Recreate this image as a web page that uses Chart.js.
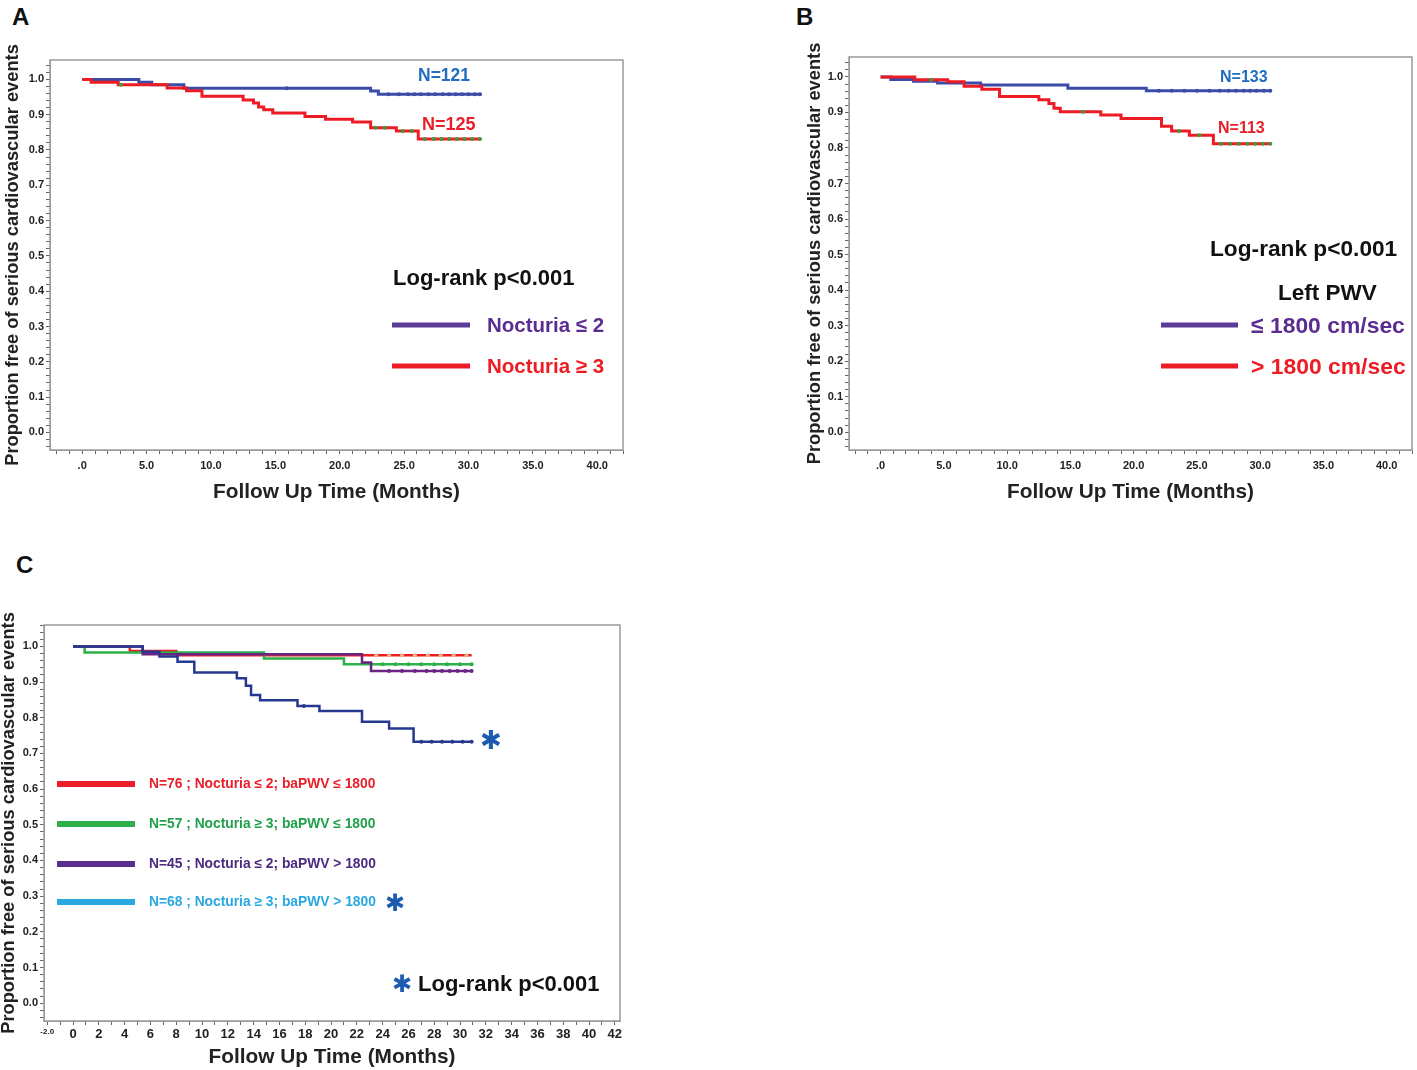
<!DOCTYPE html>
<html>
<head>
<meta charset="utf-8">
<script src="https://cdn.jsdelivr.net/npm/chart.js@4.4.1/dist/chart.umd.min.js"></script>
<style>
  body { margin: 0; background: #fff; width: 1417px; height: 1070px; position: relative; overflow: hidden;
         font-family: "Liberation Sans", Arial, sans-serif; }
  .box { position: absolute; }
  .t { position: absolute; font-weight: bold; white-space: nowrap; line-height: 1; transform: translateY(-50%); }
  .ln { position: absolute; transform: translateY(-50%); }
  .star { position: absolute; font-family: "DejaVu Sans", sans-serif; line-height: 1; transform: translate(-50%, -50%); color: #1d5bb0; }
</style>
</head>
<body>

<div class="box" style="left:0;top:40px;width:630px;height:480px"><canvas id="chartA"></canvas></div>
<div class="box" style="left:800px;top:40px;width:617px;height:480px"><canvas id="chartB"></canvas></div>
<div class="box" style="left:0;top:600px;width:630px;height:470px"><canvas id="chartC"></canvas></div>

<!-- panel letters -->
<div class="t" style="left:12px;top:17px;font-size:24px;color:#111">A</div>
<div class="t" style="left:796px;top:17px;font-size:24px;color:#111">B</div>
<div class="t" style="left:16px;top:565px;font-size:24px;color:#111">C</div>

<!-- panel A notes -->
<div class="t" style="left:418px;top:76px;font-size:17.5px;color:#1f6cc0">N=121</div>
<div class="t" style="left:422px;top:124px;font-size:18px;color:#e8202a">N=125</div>
<div class="t" style="left:393px;top:278px;font-size:22px;color:#111">Log-rank p&lt;0.001</div>
<div class="ln" style="left:392px;top:325px;width:78px;height:5px;background:#5b3a98"></div>
<div class="t" style="left:487px;top:325px;font-size:20.5px;color:#5b2d90">Nocturia ≤ 2</div>
<div class="ln" style="left:392px;top:366px;width:78px;height:5px;background:#ed1c24"></div>
<div class="t" style="left:487px;top:366px;font-size:20.5px;color:#ed1c24">Nocturia ≥ 3</div>

<!-- panel B notes -->
<div class="t" style="left:1220px;top:77px;font-size:16px;color:#1f6cc0">N=133</div>
<div class="t" style="left:1218px;top:128px;font-size:16px;color:#e8202a">N=113</div>
<div class="t" style="left:1210px;top:248px;font-size:22.7px;color:#111">Log-rank p&lt;0.001</div>
<div class="t" style="left:1278px;top:293px;font-size:22.5px;color:#111">Left PWV</div>
<div class="ln" style="left:1161px;top:325px;width:77px;height:5px;background:#5b3a98"></div>
<div class="t" style="left:1251px;top:325px;font-size:22.9px;color:#5b2d90">≤ 1800 cm/sec</div>
<div class="ln" style="left:1161px;top:366px;width:77px;height:5px;background:#ed1c24"></div>
<div class="t" style="left:1251px;top:366px;font-size:22.9px;color:#ed1c24">&gt; 1800 cm/sec</div>

<!-- panel C notes -->
<div class="star" style="left:491px;top:740px;font-size:26px">✱</div>
<div class="ln" style="left:57px;top:784px;width:78px;height:6px;background:#e8202a"></div>
<div class="t" style="left:149px;top:784px;font-size:13.8px;color:#e8202a">N=76 ; Nocturia ≤ 2; baPWV ≤ 1800</div>
<div class="ln" style="left:57px;top:824px;width:78px;height:6px;background:#2bb04a"></div>
<div class="t" style="left:149px;top:824px;font-size:13.8px;color:#1fa04a">N=57 ; Nocturia ≥ 3; baPWV ≤ 1800</div>
<div class="ln" style="left:57px;top:864px;width:78px;height:6px;background:#5b2d8e"></div>
<div class="t" style="left:149px;top:864px;font-size:13.8px;color:#4b2a80">N=45 ; Nocturia ≤ 2; baPWV &gt; 1800</div>
<div class="ln" style="left:57px;top:902px;width:78px;height:6px;background:#2aa8e0"></div>
<div class="t" style="left:149px;top:902px;font-size:13.8px;color:#2aa8e0">N=68 ; Nocturia ≥ 3; baPWV &gt; 1800</div>
<div class="star" style="left:395px;top:903px;font-size:24px">✱</div>
<div class="star" style="left:402px;top:984px;font-size:24px">✱</div>
<div class="t" style="left:418px;top:984px;font-size:22px;color:#111">Log-rank p&lt;0.001</div>

<script>
// Panel A: Nocturia <= 2 vs >= 3 (months, survival)
var aTimeLow = [0, 4.4, 5.4, 7.9, 22.4, 23.0, 30.9];
var aSurvLow = [1.0, 0.992, 0.985, 0.975, 0.967, 0.958, 0.958];
var aTimeHigh = [0, 0.7, 2.8, 6.6, 8.1, 9.3, 12.5, 13.3, 13.7, 14.1, 14.8, 17.3, 18.9, 21.0, 22.4, 24.4, 26.1, 30.9];
var aSurvHigh = [1.0, 0.992, 0.985, 0.976, 0.968, 0.952, 0.942, 0.933, 0.922, 0.914, 0.905, 0.895, 0.887, 0.879, 0.863, 0.854, 0.831, 0.831];
// censored marks (time, level)
var aCensLowT = [15.9, 23.8, 24.6, 25.3, 25.8, 26.3, 26.9, 27.4, 28.0, 28.5, 29.0, 29.5, 30.0, 30.5, 30.9];
var aCensLowS = [0.975, 0.958, 0.958, 0.958, 0.958, 0.958, 0.958, 0.958, 0.958, 0.958, 0.958, 0.958, 0.958, 0.958, 0.958];
var aCensHighT = [3.0, 22.8, 23.5, 24.9, 25.6, 26.6, 27.3, 27.9, 28.5, 29.1, 29.7, 30.3, 30.9];
var aCensHighS = [0.985, 0.863, 0.863, 0.854, 0.854, 0.831, 0.831, 0.831, 0.831, 0.831, 0.831, 0.831, 0.831];

// Panel B: left PWV <= 1800 vs > 1800
var bTimeLow = [0, 0.8, 2.6, 4.5, 7.9, 14.8, 21.0, 30.8];
var bSurvLow = [1.0, 0.993, 0.988, 0.983, 0.977, 0.968, 0.961, 0.961];
var bTimeHigh = [0, 2.7, 5.3, 6.6, 8.0, 9.4, 12.5, 13.3, 13.7, 14.2, 17.4, 19.0, 22.2, 23.0, 24.4, 26.3, 30.8];
var bSurvHigh = [1.0, 0.992, 0.986, 0.974, 0.965, 0.945, 0.936, 0.925, 0.912, 0.902, 0.893, 0.883, 0.861, 0.848, 0.836, 0.812, 0.812];
var bCensLowT = [22.0, 23.0, 24.0, 25.0, 26.0, 26.8, 27.5, 28.1, 28.7, 29.2, 29.7, 30.3, 30.8];
var bCensLowS = [0.961, 0.961, 0.961, 0.961, 0.961, 0.961, 0.961, 0.961, 0.961, 0.961, 0.961, 0.961, 0.961];
var bCensHighT = [4.0, 16.0, 23.6, 25.2, 26.9, 27.6, 28.3, 29.0, 29.6, 30.2, 30.8];
var bCensHighS = [0.992, 0.902, 0.848, 0.836, 0.812, 0.812, 0.812, 0.812, 0.812, 0.812, 0.812];

// Panel C: four combined groups
var cTimeRed = [0, 4.4, 8.0, 30.9];
var cSurvRed = [1.0, 0.987, 0.975, 0.975];
var cTimeGreen = [0, 0.9, 14.8, 21.0, 30.9];
var cSurvGreen = [1.0, 0.983, 0.966, 0.95, 0.95];
var cTimePurple = [0, 5.4, 22.4, 23.1, 30.9];
var cSurvPurple = [1.0, 0.978, 0.955, 0.931, 0.931];
var cTimeBlue = [0, 5.4, 6.7, 8.1, 9.4, 12.7, 13.4, 13.8, 14.5, 17.4, 19.1, 22.4, 24.5, 26.4, 30.9];
var cSurvBlue = [1.0, 0.985, 0.972, 0.957, 0.927, 0.911, 0.89, 0.864, 0.849, 0.833, 0.819, 0.789, 0.77, 0.733, 0.733];
var cCensBlueT = [17.9, 27.0, 27.8, 28.6, 29.4, 30.2, 30.9];
var cCensBlueS = [0.833, 0.733, 0.733, 0.733, 0.733, 0.733, 0.733];
var cCensPurpleT = [24.5, 25.5, 26.5, 27.4, 28.0, 28.6, 29.2, 29.8, 30.4, 30.9];
var cCensPurpleS = [0.931, 0.931, 0.931, 0.931, 0.931, 0.931, 0.931, 0.931, 0.931, 0.931];
var cCensGreenT = [24.0, 25.0, 26.0, 27.0, 28.0, 29.0, 30.0, 30.9];
var cCensGreenS = [0.95, 0.95, 0.95, 0.95, 0.95, 0.95, 0.95, 0.95];
var cCensRedT = [23.5, 24.5, 25.5, 26.5, 27.5, 28.5, 29.5, 30.5];
var cCensRedS = [0.975, 0.975, 0.975, 0.975, 0.975, 0.975, 0.975, 0.975];

// tick labels
var yTickValues = [0, 0.1, 0.2, 0.3, 0.4, 0.5, 0.6, 0.7, 0.8, 0.9, 1.0];
var yTickLabels = ['0.0', '0.1', '0.2', '0.3', '0.4', '0.5', '0.6', '0.7', '0.8', '0.9', '1.0'];
var abTickValues = [0, 5, 10, 15, 20, 25, 30, 35, 40];
var abTickLabels = ['.0', '5.0', '10.0', '15.0', '20.0', '25.0', '30.0', '35.0', '40.0'];
var cTickValues = [-2, 0, 2, 4, 6, 8, 10, 12, 14, 16, 18, 20, 22, 24, 26, 28, 30, 32, 34, 36, 38, 40, 42];
var cTickLabels = ['-2.0', '0', '2', '4', '6', '8', '10', '12', '14', '16', '18', '20', '22', '24', '26', '28', '30', '32', '34', '36', '38', '40', '42'];

var BLUE = '#3a4ca8';
var RED = '#ed1c24';
var GREEN = '#2bb04a';
var CENSGREEN = '#3f9a3a';
var PURPLE = '#6a2484';
var DARKBLUE = '#26388f';
var PEACH = '#f0b080';

function points(times, surv) {
  return times.map(function(t, i) { return {x: t, y: surv[i]}; });
}

function lookup(values, labels, v) {
  for (var i = 0; i < values.length; i++) {
    if (Math.abs(values[i] - v) < 1e-6) return labels[i];
  }
  return '';
}

var boxPlugin = {
  id: 'box',
  afterDatasetsDraw: function(chart) {
    var a = chart.chartArea, c = chart.ctx;
    c.save();
    c.strokeStyle = '#9a9a9a';
    c.lineWidth = 1.5;
    c.strokeRect(a.left, a.top, a.right - a.left, a.bottom - a.top);
    c.restore();
  }
};

function kmChart(id, datasets, o) {
  return new Chart(document.getElementById(id), {
    type: 'line',
    data: {datasets: datasets},
    options: {
      responsive: true,
      maintainAspectRatio: false,
      animation: false,
      layout: {padding: o.padding},
      elements: {point: {radius: 0}, line: {tension: 0}},
      plugins: {legend: {display: false}, tooltip: {enabled: false}},
      scales: {
        x: {
          type: 'linear', min: o.xMin, max: o.xMax,
          afterFit: function(s) { s.height = o.xHeight; },
          border: {color: '#9a9a9a'},
          grid: {drawOnChartArea: false, tickLength: 4, tickColor: '#666'},
          ticks: {
            stepSize: 1, includeBounds: false, autoSkip: false, maxRotation: 0, padding: o.xTickPad, color: '#222',
            font: o.xTickFont,
            callback: function(v) { return lookup(o.xValues, o.xLabels, v); }
          },
          title: {display: true, text: 'Follow Up Time (Months)', color: '#222',
                  font: {size: 20.8, weight: 'bold', family: 'Liberation Sans'},
                  padding: {top: 0, bottom: o.xTitlePad}}
        },
        y: {
          type: 'linear', min: o.yMin, max: o.yMax,
          afterFit: function(s) { s.width = o.yWidth; },
          border: {color: '#9a9a9a'},
          grid: {drawOnChartArea: false, tickLength: 4, tickColor: '#666'},
          ticks: {
            stepSize: 0.02, includeBounds: false, autoSkip: false, padding: 2, color: '#222',
            font: {size: 11, weight: 'bold', family: 'Liberation Sans'},
            callback: function(v) { return lookup(yTickValues, yTickLabels, v); }
          },
          title: {display: true, text: 'Proportion free of serious cardiovascular events', color: '#222',
                  font: {size: 18.3, weight: 'bold', family: 'Liberation Sans', lineHeight: 1},
                  padding: {top: o.yTitlePad, bottom: 0}}
        }
      }
    },
    plugins: [boxPlugin]
  });
}

function line(data, color, width) {
  return {data: data, borderColor: color, backgroundColor: color, borderWidth: width, stepped: 'before', fill: false};
}

function censor(data, color, r) {
  return {data: data, showLine: false, pointRadius: r, pointStyle: 'circle',
          pointBackgroundColor: color, pointBorderWidth: 0, borderColor: color};
}

kmChart('chartA', [
  censor(points(aCensHighT, aCensHighS), CENSGREEN, 2),
  censor(points(aCensLowT, aCensLowS), BLUE, 2),
  line(points(aTimeHigh, aSurvHigh), RED, 3),
  line(points(aTimeLow, aSurvLow), BLUE, 3)
], {
  padding: {top: 20, right: 7, left: 0, bottom: 0},
  xMin: -2.5, xMax: 42, yMin: -0.05, yMax: 1.055,
  xHeight: 70, yWidth: 50, xTickPad: 5, xTitlePad: 15, yTitlePad: 4,
  xValues: abTickValues, xLabels: abTickLabels,
  xTickFont: {size: 11, weight: 'bold', family: 'Liberation Sans'}
});

kmChart('chartB', [
  censor(points(bCensHighT, bCensHighS), CENSGREEN, 2),
  censor(points(bCensLowT, bCensLowS), BLUE, 2),
  line(points(bTimeHigh, bSurvHigh), RED, 3),
  line(points(bTimeLow, bSurvLow), BLUE, 3)
], {
  padding: {top: 17, right: 3, left: 0, bottom: 0},
  xMin: -2.5, xMax: 42, yMin: -0.05, yMax: 1.056,
  xHeight: 70, yWidth: 49, xTickPad: 5, xTitlePad: 15, yTitlePad: 6,
  xValues: abTickValues, xLabels: abTickLabels,
  xTickFont: {size: 11, weight: 'bold', family: 'Liberation Sans'}
});

kmChart('chartC', [
  censor(points(cCensBlueT, cCensBlueS), DARKBLUE, 2),
  censor(points(cCensPurpleT, cCensPurpleS), PURPLE, 2),
  censor(points(cCensGreenT, cCensGreenS), GREEN, 2),
  censor(points(cCensRedT, cCensRedS), PEACH, 2),
  line(points(cTimeBlue, cSurvBlue), DARKBLUE, 2.5),
  line(points(cTimePurple, cSurvPurple), PURPLE, 2.5),
  line(points(cTimeGreen, cSurvGreen), GREEN, 2.5),
  line(points(cTimeRed, cSurvRed), RED, 2.5)
], {
  padding: {top: 25, right: 10, left: 0, bottom: 0},
  xMin: -2.25, xMax: 42.4, yMin: -0.05, yMax: 1.06,
  xHeight: 49, yWidth: 44, xTickPad: 2, xTitlePad: 0, yTitlePad: 0,
  xValues: cTickValues, xLabels: cTickLabels,
  xTickFont: function(ctx) {
    var small = ctx.tick && ctx.tick.value < -1;
    return {size: small ? 8 : 13, weight: 'bold', family: 'Liberation Sans'};
  }
});
</script>
</body>
</html>
